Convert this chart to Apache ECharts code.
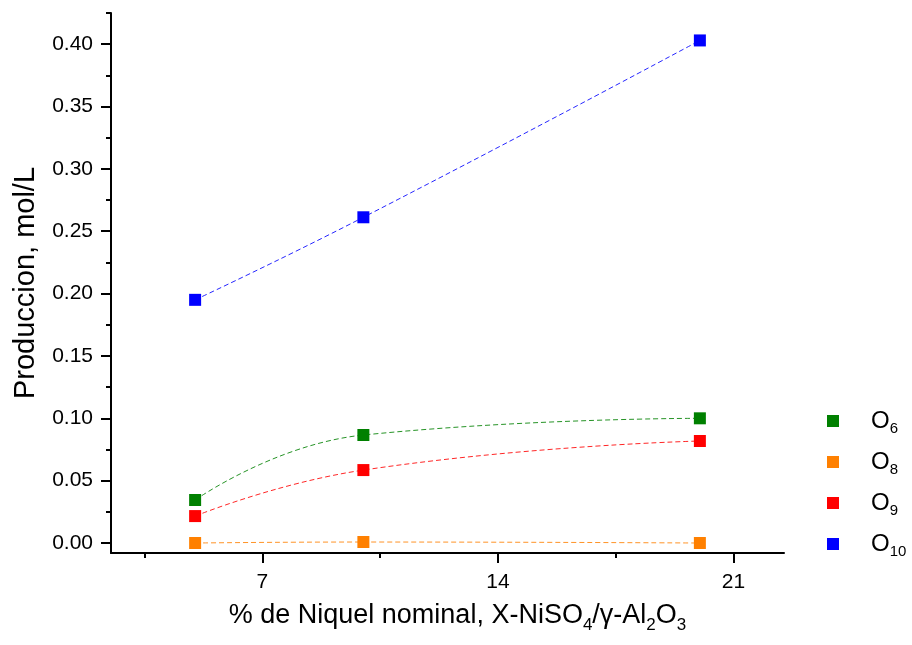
<!DOCTYPE html>
<html>
<head>
<meta charset="utf-8">
<script src="https://cdn.jsdelivr.net/npm/echarts@6/dist/echarts.min.js"></script>
<style>
html,body{margin:0;padding:0;background:#fff;}
#chart{width:912px;height:645px;}
</style>
</head>
<body>
<div id="chart"></div>
<script>
// Data
var xValues = [5, 10, 20];
var o6 = [0.0345, 0.0866, 0.1000];
var o8 = [0.0000, 0.0008, 0.0000];
var o9 = [0.0216, 0.0585, 0.0818];
var o10 = [0.1950, 0.2612, 0.4030];
var seriesNames = ['O6', 'O8', 'O9', 'O10'];
var seriesSubs = ['6', '8', '9', '10'];
var seriesColors = ['#008000', '#FF8000', '#FF0000', '#0000FF'];
var xMajorTicks = [7, 14, 21];
var xMinorTicks = [3.5, 10.5, 17.5];
var yMajorTicks = [0, 0.05, 0.10, 0.15, 0.20, 0.25, 0.30, 0.35, 0.40];
var yMinorTicks = [0.025, 0.075, 0.125, 0.175, 0.225, 0.275, 0.325, 0.375, 0.425];

var FONT = 'Liberation Sans, Arial, sans-serif';
var chart = echarts.init(document.getElementById('chart'), null, {renderer: 'canvas'});

function pairs(ys) { return xValues.map(function (x, i) { return [x, ys[i]]; }); }
var allData = [o6, o8, o9, o10];

var series = allData.map(function (ys, i) {
  return {
    name: seriesNames[i],
    type: 'line',
    data: pairs(ys),
    smooth: 0.5,
    symbol: 'rect',
    symbolSize: 12,
    showAllSymbol: true,
    itemStyle: {color: seriesColors[i]},
    lineStyle: {color: seriesColors[i], width: 1, type: [5, 3], opacity: 0.85},
    emphasis: {disabled: true},
    z: 3
  };
});

var gridDef = {left: 111, right: 128, top: 13, bottom: 92};
var xMin = 2.5, xMax = 22.5, yMin = -0.008, yMax = 0.425;

var option = {
  animation: false,
  backgroundColor: '#fff',
  grid: gridDef,
  legend: {
    orient: 'vertical',
    left: 822,
    top: 399,
    itemWidth: 12,
    itemHeight: 12,
    itemGap: 9,
    icon: 'rect',
    selectedMode: false,
    data: seriesNames,
    formatter: function (name) {
      var i = seriesNames.indexOf(name);
      return '{g|}{o|O}{s|' + seriesSubs[i] + '}';
    },
    textStyle: {
      fontFamily: FONT,
      color: '#000',
      rich: {
        g: {width: 27, lineHeight: 30},
        o: {fontSize: 24, lineHeight: 30, fontFamily: FONT, color: '#000'},
        s: {fontSize: 15, lineHeight: 15, padding: [17, 0, 0, 0], verticalAlign: 'bottom', fontFamily: FONT, color: '#000'}
      }
    }
  },
  xAxis: [{
    type: 'value',
    min: xMin, max: xMax,
    position: 'bottom',
    name: '% de Niquel nominal, X-NiSO{s|4}/γ-Al{s|2}O{s|3}',
    nameLocation: 'middle',
    nameGap: 41,
    nameTextStyle: {
      fontSize: 27, fontFamily: FONT, color: '#000', lineHeight: 36,
      padding: [0, 0, 0, 20],
      rich: {
        s: {fontSize: 17, lineHeight: 17, padding: [18, 0, 0, 0], verticalAlign: 'bottom', fontFamily: FONT, color: '#000'}
      }
    },
    axisLine: {show: true, onZero: false, lineStyle: {color: '#000', width: 2}},
    axisTick: {show: true, inside: false, length: 10, lineStyle: {color: '#000', width: 2}, customValues: xMajorTicks},
    axisLabel: {show: true, fontSize: 21, fontFamily: FONT, color: '#000', margin: 19, customValues: xMajorTicks,
      formatter: function (v) { return String(v); }},
    splitLine: {show: false}
  }, {
    type: 'value',
    min: xMin, max: xMax,
    position: 'bottom',
    axisLine: {show: false, onZero: false},
    axisTick: {show: true, inside: false, length: 5, lineStyle: {color: '#000', width: 2}, customValues: xMinorTicks},
    axisLabel: {show: false},
    splitLine: {show: false}
  }],
  yAxis: [{
    type: 'value',
    min: yMin, max: yMax,
    position: 'left',
    name: 'Produccion, mol/L',
    nameLocation: 'middle',
    nameRotate: 90,
    nameGap: 71,
    nameTextStyle: {fontSize: 29, fontFamily: FONT, color: '#000'},
    axisLine: {show: true, onZero: false, lineStyle: {color: '#000', width: 2}},
    axisTick: {show: true, inside: false, length: 10, lineStyle: {color: '#000', width: 2}, customValues: yMajorTicks},
    axisLabel: {show: true, fontSize: 21, fontFamily: FONT, color: '#000', margin: 18, customValues: yMajorTicks,
      formatter: function (v) { return v.toFixed(2); }},
    splitLine: {show: false}
  }, {
    type: 'value',
    min: yMin, max: yMax,
    position: 'left',
    axisLine: {show: false, onZero: false},
    axisTick: {show: true, inside: false, length: 5, lineStyle: {color: '#000', width: 2}, customValues: yMinorTicks},
    axisLabel: {show: false},
    splitLine: {show: false}
  }],
  series: series
};
chart.setOption(option);
</script>
</body>
</html>
